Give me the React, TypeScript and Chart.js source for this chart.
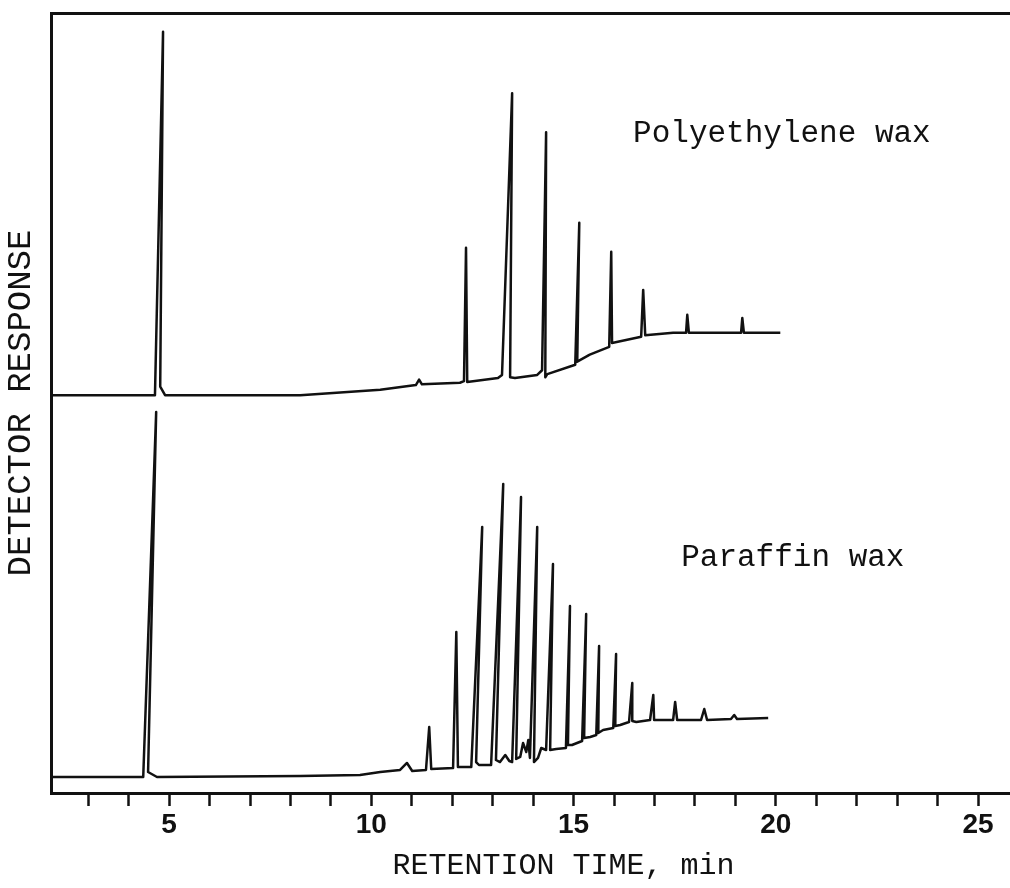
import React, { useEffect, useRef } from "react";
import { Chart, registerables } from "chart.js";

Chart.register(...registerables);

// Retention time (min) and detector response (arbitrary units, 0-100 full scale)
const polyTime = [
  2.08, 4.65, 4.85, 4.78, 4.9, 8.24, 10.22, 11.1, 11.18, 11.25, 12.19, 12.29, 12.34, 12.37,
  13.13, 13.23, 13.48, 13.43, 13.55, 14.1, 14.22, 14.32, 14.3, 14.35, 15.04, 15.14, 15.09,
  15.4, 15.88, 15.93, 15.95, 16.67, 16.72, 16.77, 17.46, 17.78, 17.81, 17.85, 19.14, 19.17,
  19.21, 20.11,
];
const polyResp = [
  51.0, 51.0, 97.6, 52.1, 51.0, 51.0, 51.7, 52.3, 53.0, 52.4, 52.6, 52.8, 69.9, 52.7,
  53.2, 53.6, 89.7, 53.3, 53.2, 53.6, 54.2, 84.7, 53.3, 53.7, 54.9, 73.1, 55.3,
  56.2, 57.2, 69.4, 57.7, 58.5, 64.5, 58.7, 59.0, 59.0, 61.3, 59.0, 59.0, 60.9,
  59.0, 59.0,
];

const paraTime = [
  2.08, 4.36, 4.68, 4.7, 4.48, 4.7, 8.24, 9.72, 10.22, 10.71, 10.88, 11.01, 11.35, 11.43,
  11.48, 12.02, 12.1, 12.14, 12.47, 12.74, 12.59, 12.66, 12.96, 13.26, 13.08, 13.18, 13.31,
  13.41, 13.48, 13.7, 13.58, 13.68, 13.75, 13.83, 13.88, 13.92, 14.1, 14.02, 14.12, 14.2,
  14.32, 14.49, 14.42, 14.57, 14.81, 14.91, 14.86, 14.96, 15.21, 15.31, 15.26, 15.41, 15.56,
  15.63, 15.61, 15.73, 15.98, 16.05, 16.03, 16.15, 16.37, 16.45, 16.45, 16.55, 16.89, 16.97,
  16.99, 17.46, 17.51, 17.56, 18.15, 18.23, 18.3, 18.89, 18.97, 19.04, 19.81,
];
const paraResp = [
  2.05, 2.05, 48.85, 48.85, 2.69, 2.05, 2.18, 2.31, 2.69, 2.95, 3.85, 2.82, 2.95, 8.46,
  3.08, 3.21, 20.64, 3.33, 3.33, 34.1, 3.97, 3.59, 3.59, 39.62, 4.23, 3.97, 4.87,
  4.1, 3.97, 37.95, 4.36, 4.62, 6.41, 5.26, 6.79, 4.49, 34.1, 3.97, 4.49, 5.77,
  5.51, 29.36, 5.51, 5.64, 5.77, 23.97, 6.15, 6.15, 6.67, 22.95, 7.05, 7.18, 7.44,
  18.85, 7.69, 8.08, 8.33, 17.82, 8.59, 8.72, 9.1, 14.1, 9.23, 9.1, 9.36, 12.56,
  9.36, 9.36, 11.67, 9.36, 9.36, 10.77, 9.36, 9.49, 10.0, 9.49, 9.62,
];

const xTickLabels = [5, 10, 15, 20, 25];

const seriesLabels = ["Polyethylene wax", "Paraffin wax"];
// label anchor points (time, response) for the in-plot captions
const labelTimes = [16.47, 17.66];
const labelResp = [83.5, 29.1];

const MONO = "'Courier New', 'Liberation Mono', monospace";
const INK = "#111111";

const captionPlugin = {
  id: "captions",
  afterDatasetsDraw(chart: any) {
    const { ctx, scales } = chart;
    ctx.save();
    ctx.fillStyle = INK;
    ctx.font = `31px ${MONO}`;
    ctx.textAlign = "left";
    ctx.textBaseline = "alphabetic";
    seriesLabels.forEach((t, i) => {
      ctx.fillText(t, scales.x.getPixelForValue(labelTimes[i]), scales.y.getPixelForValue(labelResp[i]));
    });
    ctx.restore();
  },
};

export default function App() {
  const ref = useRef<HTMLCanvasElement | null>(null);

  useEffect(() => {
    if (!ref.current) return;
    const poly = polyTime.map((t, i) => ({ x: t, y: polyResp[i] }));
    const para = paraTime.map((t, i) => ({ x: t, y: paraResp[i] }));
    const chart = new Chart(ref.current, {
      type: "scatter",
      data: {
        datasets: [
          {
            label: seriesLabels[0],
            data: poly,
            showLine: true,
            borderColor: INK,
            borderWidth: 2.5,
            pointRadius: 0,
            tension: 0,
            borderJoinStyle: "round",
          },
          {
            label: seriesLabels[1],
            data: para,
            showLine: true,
            borderColor: INK,
            borderWidth: 2.5,
            pointRadius: 0,
            tension: 0,
            borderJoinStyle: "round",
          },
        ],
      },
      options: {
        responsive: false,
        animation: false,
        devicePixelRatio: 1,
        layout: { padding: 0 },
        plugins: { legend: { display: false }, tooltip: { enabled: false } },
        scales: {
          x: {
            type: "linear",
            position: "bottom",
            min: 2.08,
            max: 27.42,
            afterFit: (s: any) => {
              s.height = 95;
            },
            border: { display: true, color: INK, width: 3 },
            grid: {
              display: true,
              drawOnChartArea: false,
              drawTicks: true,
              tickLength: 13,
              tickWidth: 2.5,
              tickColor: INK,
              color: INK,
            },
            ticks: {
              stepSize: 1,
              includeBounds: false,
              autoSkip: false,
              maxRotation: 0,
              padding: 2,
              color: INK,
              font: { family: "'Liberation Sans', Arial, sans-serif", size: 28, weight: "bold" },
              callback: (v: any) => (xTickLabels.includes(Number(v)) ? String(v) : ""),
            },
            title: {
              display: true,
              text: "RETENTION TIME, min",
              color: INK,
              font: { family: MONO, size: 30 },
              padding: { top: 0, bottom: 4 },
            },
          },
          xTop: {
            type: "linear",
            position: "top",
            min: 2.08,
            max: 27.42,
            afterFit: (s: any) => {
              s.height = 13;
            },
            border: { display: true, color: INK, width: 3 },
            grid: { display: false, drawTicks: false },
            ticks: { display: false },
          },
          y: {
            type: "linear",
            min: 0,
            max: 100,
            afterFit: (s: any) => {
              s.width = 51;
            },
            border: { display: true, color: INK, width: 3 },
            grid: { display: false, drawTicks: false },
            ticks: { display: false },
            title: {
              display: true,
              text: "DETECTOR RESPONSE",
              color: INK,
              font: { family: MONO, size: 34 },
              padding: { top: 1, bottom: 0 },
            },
          },
        },
      },
      plugins: [captionPlugin],
    });
    return () => chart.destroy();
  }, []);

  return (
    <div
      style={{
        position: "fixed",
        left: 0,
        top: 0,
        width: 1010,
        height: 888,
        overflow: "hidden",
        background: "#ffffff",
      }}
    >
      <canvas ref={ref} width={1076} height={888} style={{ display: "block" }} />
    </div>
  );
}
